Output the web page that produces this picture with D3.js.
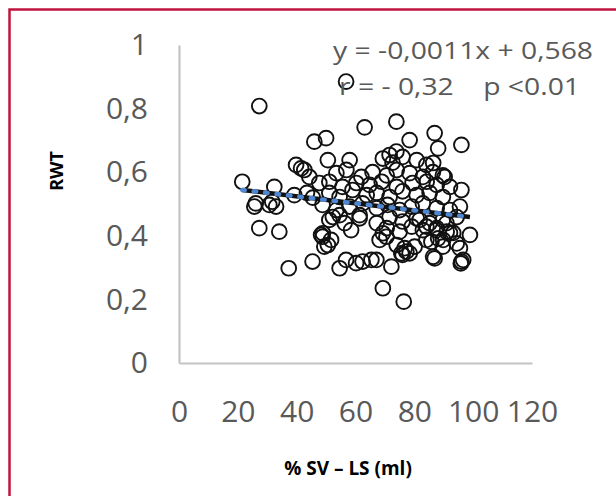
<!DOCTYPE html>
<html>
<head>
<meta charset="utf-8">
<script src="https://cdn.jsdelivr.net/npm/d3@7"></script>
<style>
  body { margin: 0; background: #fff; }
  svg { display: block; }
</style>
</head>
<body>
<svg id="chart" width="616" height="496"></svg>
<script>
// % SV - LS (ml) for each patient
const svPct = [
    27.3, 56.8, 21.5, 32.4, 26.1, 30.7, 31.7, 39.8, 41.5, 39.2,
    44.3, 46.0, 50.0, 50.6, 25.6, 27.3, 34.1, 37.3, 45.4, 48.8,
    49.4, 54.6, 56.8, 60.2, 65.4, 67.1, 72.2, 69.3, 76.4, 75.6,
    77.3, 86.9, 96.0, 96.6, 95.8, 98.9, 95.5, 48.9, 50.6, 51.7,
    58.5, 68.2, 69.3, 85.8, 89.8, 52.3, 54.6, 61.4, 81.8, 84.1,
    87.5, 90.9, 93.2, 63.1, 73.9, 86.9, 78.4, 88.1, 96.0, 58.0,
    69.3, 71.6, 73.9, 84.1, 86.4, 90.3, 96.0, 42.6, 62.4, 76.0,
    78.4, 86.4, 48.3, 70.5, 80.1, 84.1, 88.1, 92.1, 33.0, 76.0,
    80.8, 72.6, 53.5, 56.9, 62.0, 65.8, 70.6, 74.0, 78.4, 82.9,
    86.3, 89.7, 47.7, 51.1, 55.6, 60.3, 64.8, 68.9, 74.0, 79.4,
    84.2, 87.6, 92.1, 51.1, 54.6, 59.0, 63.8, 67.2, 71.6, 76.0,
    80.8, 85.2, 89.7, 48.8, 53.5, 58.0, 62.4, 67.2, 70.9, 75.0,
    79.1, 82.9, 87.6, 92.1, 95.5, 51.1, 56.3, 61.4, 67.2, 71.6,
    76.0, 80.8, 85.2, 89.7, 94.4, 70.6, 75.0, 79.1, 82.9, 87.6,
    91.0, 74.0, 76.7, 89.7, 94.4, 43.5, 45.5
];
// RWT for each patient
const rwt = [
    0.808, 0.885, 0.570, 0.554, 0.502, 0.497, 0.507, 0.623, 0.612, 0.528,
    0.585, 0.696, 0.707, 0.638, 0.492, 0.424, 0.413, 0.298, 0.319, 0.397,
    0.366, 0.298, 0.324, 0.314, 0.324, 0.324, 0.303, 0.235, 0.193, 0.345,
    0.350, 0.329, 0.319, 0.324, 0.313, 0.403, 0.361, 0.408, 0.371, 0.387,
    0.418, 0.387, 0.408, 0.381, 0.387, 0.459, 0.465, 0.465, 0.450, 0.429,
    0.418, 0.440, 0.409, 0.741, 0.759, 0.723, 0.701, 0.675, 0.686, 0.638,
    0.643, 0.654, 0.665, 0.623, 0.629, 0.585, 0.544, 0.607, 0.319, 0.340,
    0.345, 0.334, 0.403, 0.397, 0.366, 0.387, 0.392, 0.409, 0.492, 0.648,
    0.638, 0.630, 0.597, 0.607, 0.585, 0.600, 0.590, 0.607, 0.597, 0.585,
    0.600, 0.590, 0.566, 0.570, 0.554, 0.566, 0.560, 0.570, 0.554, 0.566,
    0.570, 0.560, 0.554, 0.535, 0.522, 0.544, 0.528, 0.535, 0.522, 0.540,
    0.528, 0.535, 0.522, 0.497, 0.481, 0.492, 0.502, 0.487, 0.497, 0.481,
    0.492, 0.502, 0.487, 0.481, 0.492, 0.450, 0.440, 0.455, 0.440, 0.459,
    0.445, 0.455, 0.440, 0.450, 0.459, 0.424, 0.413, 0.429, 0.418, 0.424,
    0.413, 0.371, 0.361, 0.366, 0.376, 0.535, 0.520
];

const xTicks = [0, 20, 40, 60, 80, 100, 120];
const yTicks = [0, 0.2, 0.4, 0.6, 0.8, 1];

const trendSlope = -0.0011;
const trendIntercept = 0.568;
const eqLabel = 'y = -0,0011x + 0,568';
const statLabel = 'r = - 0,32    p <0.01';
const xTitle = '% SV \u2013 LS (ml)';
const yTitle = 'RWT';

const svg = d3.select('#chart');
const labelFont = '"Open Sans", "Liberation Sans", sans-serif';

// frame (only top and left edges are visible in the crop)
svg.append('path')
    .attr('d', 'M9.5,496V9.5H616')
    .attr('fill', 'none')
    .attr('stroke', '#C0143F')
    .attr('stroke-width', 2.5);

const x = d3.scaleLinear().domain([0, 120]).range([179, 532]);
const y = d3.scaleLinear().domain([0, 1]).range([363, 45]);

const commaFmt = d => String(d).replace('.', ',');

const xAxis = svg.append('g')
    .attr('transform', `translate(0,${y(0)})`)
    .call(d3.axisBottom(x).tickValues(xTicks).tickSize(0).tickSizeOuter(0).tickPadding(38));

const yAxis = svg.append('g')
    .attr('transform', `translate(${x(0)},0)`)
    .call(d3.axisLeft(y).tickValues(yTicks).tickFormat(commaFmt).tickSize(0).tickSizeOuter(0).tickPadding(31));

[xAxis, yAxis].forEach((ax) => {
    ax.select('.domain')
        .attr('stroke', '#C4C4C4')
        .attr('stroke-width', 2.2);
    ax.selectAll('text')
        .attr('fill', '#595959')
        .style('font-family', labelFont)
        .style('font-size', '30px');
});

// markers
svg.append('g')
    .selectAll('circle')
    .data(svPct.map((v, i) => [v, rwt[i]]))
    .enter()
    .append('circle')
    .attr('cx', d => x(d[0]))
    .attr('cy', d => y(d[1]))
    .attr('r', 7.4)
    .attr('fill', 'none')
    .attr('stroke', '#111')
    .attr('stroke-width', 1.9);

// trendline: black line with blue round dots, drawn over the markers
const xs = d3.extent(svPct);
const trendPts = xs.map(v => [x(v), y(trendSlope * v + trendIntercept)]);
const trendLine = d3.line();

svg.append('path')
    .attr('d', trendLine(trendPts))
    .attr('stroke', '#111')
    .attr('stroke-width', 4.5)
    .attr('fill', 'none');

svg.append('path')
    .attr('d', trendLine(trendPts))
    .attr('stroke', '#4F87D2')
    .attr('stroke-width', 4.5)
    .attr('stroke-linecap', 'round')
    .attr('stroke-dasharray', '2.5,9')
    .attr('fill', 'none');

// trendline label
svg.append('text')
    .attr('x', 333)
    .attr('y', 59)
    .attr('textLength', 260)
    .attr('lengthAdjust', 'spacingAndGlyphs')
    .attr('fill', '#595959')
    .style('font-family', labelFont)
    .style('font-size', '24px')
    .text(eqLabel);

svg.append('text')
    .attr('x', 339)
    .attr('y', 95)
    .attr('textLength', 241)
    .attr('lengthAdjust', 'spacingAndGlyphs')
    .attr('fill', '#595959')
    .attr('xml:space', 'preserve')
    .style('white-space', 'pre')
    .style('font-family', labelFont)
    .style('font-size', '24px')
    .text(statLabel);

// axis titles
svg.append('text')
    .attr('x', 348)
    .attr('y', 475)
    .attr('text-anchor', 'middle')
    .attr('fill', '#000')
    .style('font-family', labelFont)
    .style('font-weight', 'bold')
    .style('font-size', '19px')
    .text(xTitle);

svg.append('text')
    .attr('transform', 'translate(63,171) rotate(-90)')
    .attr('text-anchor', 'middle')
    .attr('fill', '#000')
    .style('font-family', labelFont)
    .style('font-weight', 'bold')
    .style('font-size', '18px')
    .text(yTitle);
</script>
</body>
</html>
